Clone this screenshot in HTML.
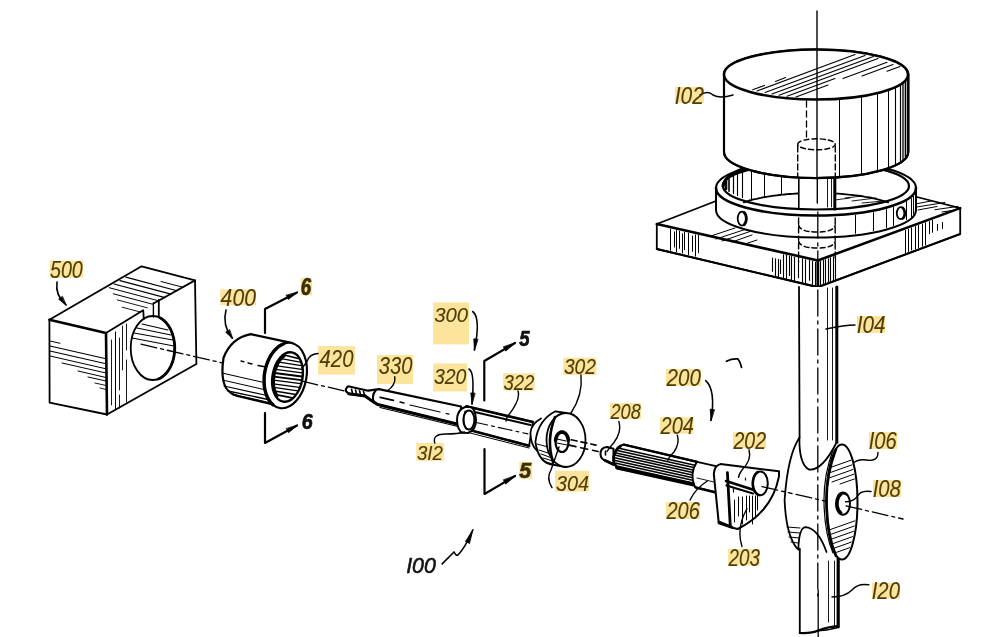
<!DOCTYPE html>
<html><head><meta charset="utf-8">
<style>
html,body{margin:0;padding:0;background:#fff;overflow:hidden;}
svg{display:block;}
.tx{font-family:"Liberation Sans",sans-serif;font-style:italic;fill:#4E3D06;stroke:#4E3D06;stroke-width:0.1;}
.tk{font-family:"Liberation Sans",sans-serif;font-style:italic;fill:#111;stroke:#111;stroke-width:0.6;}
.txb{font-family:"Liberation Sans",sans-serif;font-style:italic;font-weight:bold;fill:#3A2E04;stroke:#3A2E04;stroke-width:0.7;}
.tkb{font-family:"Liberation Sans",sans-serif;font-style:italic;font-weight:bold;fill:#111;stroke:#111;stroke-width:0.7;}
</style></head>
<body>
<svg width="1006" height="637" viewBox="0 0 1006 637">
<g stroke="#000" stroke-linecap="round" stroke-linejoin="round" fill="none">
<path d="M49.4 319.8 L141.6 266.3 L195 280.4 L196.4 364 L107 414.5 L49.6 402.7 Z" fill="#fff" stroke-width="1.8" />
<path d="M49.4 319.8 L106 333 L107 414.5" fill="none" stroke-width="2.6" />
<ellipse cx="152.7" cy="348" rx="22" ry="32" fill="#fff" stroke-width="1.8" />
<path d="M160.2 317.9 L162.4 319.2 L164.4 320.9 L166.3 322.8 L168.0 325.0 L169.6 327.5 L171.0 330.2 L172.2 333.1 L173.1 336.2 L173.9 339.4 L174.4 342.7 L174.7 346.0 L174.7 349.4 L174.5 352.8 L174.0 356.1 L173.3 359.3 L172.4 362.4 L171.2 365.3 L169.9 368.0 L168.3 370.5 L166.6 372.8 L164.7 374.8 L162.7 376.5 L160.6 377.9 L158.4 378.9" fill="none" stroke-width="2.8" />
<path d="M106 333 L143.2 310.2 L143.8 319" fill="none" stroke-width="1.8" />
<path d="M153.5 303.5 L195 280.4" fill="none" stroke-width="1.8" />
<line x1="153.4" y1="303.0" x2="153.4" y2="317.0" stroke-width="1.4" />
<line x1="158.8" y1="300.0" x2="158.8" y2="317.0" stroke-width="1.8" />
<line x1="142.0" y1="324.0" x2="168.0" y2="330.0" stroke-width="1.1" />
<line x1="137.0" y1="328.0" x2="171.0" y2="335.0" stroke-width="1.1" />
<line x1="134.0" y1="333.0" x2="173.0" y2="340.0" stroke-width="1.1" />
<line x1="132.0" y1="338.0" x2="174.0" y2="346.0" stroke-width="1.1" />
<line x1="161.0" y1="281.5" x2="183.0" y2="287.3" stroke-width="1.0" />
<line x1="125.8" y1="277.1" x2="177.0" y2="290.7" stroke-width="1.1" />
<line x1="119.9" y1="280.6" x2="171.1" y2="294.1" stroke-width="1.1" />
<line x1="114.0" y1="284.0" x2="165.1" y2="297.6" stroke-width="1.1" />
<line x1="109.2" y1="287.7" x2="159.2" y2="301.0" stroke-width="1.0" />
<line x1="113.3" y1="293.8" x2="153.3" y2="304.4" stroke-width="1.0" />
<line x1="117.3" y1="299.9" x2="147.3" y2="307.8" stroke-width="0.9" />
<line x1="122.2" y1="307.2" x2="140.2" y2="312.0" stroke-width="0.9" />
<line x1="50.0" y1="341.0" x2="60.0" y2="343.3" stroke-width="1.0" />
<line x1="50.0" y1="346.0" x2="106.0" y2="358.8" stroke-width="1.1" />
<line x1="50.0" y1="351.0" x2="106.0" y2="363.8" stroke-width="1.1" />
<line x1="50.0" y1="356.0" x2="106.0" y2="368.8" stroke-width="1.0" />
<line x1="62.0" y1="363.0" x2="106.0" y2="373.0" stroke-width="1.0" />
<line x1="78.0" y1="371.0" x2="106.0" y2="377.5" stroke-width="1.0" />
<line x1="88.0" y1="377.0" x2="106.0" y2="381.0" stroke-width="1.0" />
<line x1="95.0" y1="383.0" x2="106.0" y2="385.5" stroke-width="0.9" />
<line x1="100.0" y1="388.0" x2="106.0" y2="389.5" stroke-width="0.9" />
<line x1="111.5" y1="340.0" x2="111.5" y2="405.0" stroke-width="0.9" />
<line x1="115.5" y1="332.0" x2="115.5" y2="410.0" stroke-width="1.0" />
<line x1="119.5" y1="338.0" x2="119.5" y2="390.0" stroke-width="0.9" />
<line x1="119.5" y1="395.0" x2="119.5" y2="408.0" stroke-width="0.9" />
<line x1="122.5" y1="326.0" x2="122.5" y2="370.0" stroke-width="0.9" />
<line x1="126.5" y1="324.0" x2="126.5" y2="350.0" stroke-width="0.9" />
<line x1="126.5" y1="360.0" x2="126.5" y2="402.0" stroke-width="0.9" />
<path d="M57 282 Q55 295 66 305" fill="none" stroke-width="1.6" />
<path d="M66.0 305.0 L58.7 299.2 L62.2 296.5 Z" fill="#000" stroke-width="0.8"/>
<path d="M250.8 334.2 Q229.9 340 223 360 Q221 380 226 388 Q230 394 237.4 396 L271.7 404.3 L300 350 L292.6 343.1 Z" fill="#fff" stroke-width="0" />
<path d="M292.6 343.1 L250.8 334.2 Q231 338 223.5 358 Q220.5 378 226 388 Q230 394 237.4 396 L275 405" fill="none" stroke-width="2.2" />
<line x1="222.0" y1="373.0" x2="266.0" y2="383.0" stroke-width="1.1" />
<line x1="222.5" y1="380.0" x2="266.0" y2="390.0" stroke-width="1.0" />
<line x1="224.0" y1="386.0" x2="267.0" y2="395.5" stroke-width="1.1" />
<line x1="228.0" y1="391.0" x2="268.0" y2="399.5" stroke-width="1.3" />
<line x1="233.0" y1="394.5" x2="270.0" y2="403.0" stroke-width="1.6" />
<line x1="241.0" y1="361.0" x2="244.0" y2="361.8" stroke-width="1.3" />
<line x1="248.0" y1="363.0" x2="252.0" y2="364.0" stroke-width="1.3" />
<line x1="258.0" y1="365.5" x2="266.0" y2="367.0" stroke-width="1.3" />
<ellipse cx="285.5" cy="375.5" rx="21" ry="33" transform="rotate(10 285.5 375.5)" fill="#fff" stroke-width="2.2"/>
<path d="M273.0 404.8 L271.3 403.2 L269.8 401.2 L268.4 399.1 L267.1 396.6 L266.1 394.0 L265.3 391.2 L264.6 388.2 L264.2 385.0 L264.1 381.8 L264.1 378.5 L264.3 375.2 L264.8 371.9 L265.5 368.6 L266.4 365.4 L267.5 362.2 L268.8 359.3 L270.2 356.5 L271.8 353.9 L273.6 351.5 L275.5 349.4 L277.5 347.5 L279.5 345.9 L281.6 344.7 L283.8 343.7" fill="none" stroke-width="3.4" />
<ellipse cx="287.5" cy="377" rx="15" ry="25" transform="rotate(10 287.5 377)" fill="#fff" stroke-width="2.4"/>
<line x1="284.4" y1="355.0" x2="298.2" y2="358.5" stroke-width="1.8" />
<line x1="281.2" y1="358.6" x2="300.2" y2="362.1" stroke-width="1.3" />
<line x1="278.8" y1="362.2" x2="301.4" y2="365.7" stroke-width="1.3" />
<line x1="277.0" y1="365.8" x2="301.9" y2="369.3" stroke-width="1.3" />
<line x1="275.7" y1="369.4" x2="302.1" y2="372.9" stroke-width="1.3" />
<line x1="274.6" y1="373.0" x2="301.9" y2="376.5" stroke-width="1.8" />
<line x1="273.9" y1="376.6" x2="301.4" y2="380.1" stroke-width="1.8" />
<line x1="273.5" y1="380.2" x2="300.6" y2="383.7" stroke-width="1.3" />
<line x1="273.4" y1="383.8" x2="299.4" y2="387.3" stroke-width="1.3" />
<line x1="273.7" y1="387.4" x2="297.9" y2="390.9" stroke-width="1.3" />
<line x1="274.4" y1="391.0" x2="295.9" y2="394.5" stroke-width="1.3" />
<line x1="275.8" y1="394.6" x2="293.4" y2="398.1" stroke-width="1.8" />
<path d="M277.3 395.9 L276.5 394.6 L275.8 393.2 L275.2 391.7 L274.7 390.1 L274.3 388.4 L273.9 386.5 L273.7 384.7 L273.6 382.7 L273.6 380.7 L273.7 378.7 L273.9 376.7 L274.2 374.7 L274.6 372.6 L275.1 370.7 L275.7 368.7 L276.4 366.9 L277.2 365.1 L278.0 363.4 L279.0 361.8 L279.9 360.3 L281.0 359.0 L282.1 357.8 L283.2 356.7 L284.4 355.8" fill="none" stroke-width="2.8" />
<path d="M265 333 L265 309 L297 292.5" fill="none" stroke-width="2.2" />
<path d="M297.1 292.5 L288.3 299.5 L286.3 295.5 Z" fill="#000" stroke-width="0.8"/>
<path d="M265 413 L265 443 L297 425.5" fill="none" stroke-width="2.2" />
<path d="M297.1 425.5 L288.5 432.7 L286.4 428.8 Z" fill="#000" stroke-width="0.8"/>
<path d="M226 310 Q222 325 232 338" fill="none" stroke-width="1.6" />
<path d="M232.5 338.5 L225.7 332.2 L229.4 329.8 Z" fill="#000" stroke-width="0.8"/>
<path d="M318 353.5 Q309 354 306.6 362.4 L302 368" fill="none" stroke-width="1.5" />
<path d="M348.2 386.3 L368.2 390.7 L378.9 389.1 L461 406.5 L461 425 L377.7 404.5 L372.6 401.4 L365.1 396 L348.8 393.8 Q344.5 391 346.3 388.5 Q347 386.5 348.2 386.3 Z" fill="#fff" stroke-width="2.2" />
<path d="M348.8 393.8 L365.1 396 L372.6 401.4 L377.7 404.5 L461 425" fill="none" stroke-width="3.0" />
<line x1="351.5" y1="389.2" x2="352.5" y2="393.0" stroke-width="1.6" stroke="#000"/>
<line x1="355.5" y1="390.0" x2="356.5" y2="393.6" stroke-width="1.6" stroke="#000"/>
<line x1="359.5" y1="390.8" x2="360.5" y2="394.2" stroke-width="1.6" stroke="#000"/>
<line x1="363.5" y1="391.6" x2="364.5" y2="394.8" stroke-width="1.6" stroke="#000"/>
<path d="M376 390 Q371 396 374 402" fill="none" stroke-width="2.0" />
<line x1="380.2" y1="397.3" x2="393.4" y2="400.4" stroke-width="1.8" />
<line x1="400.0" y1="402.0" x2="404.0" y2="403.0" stroke-width="1.4" />
<line x1="410.0" y1="405.0" x2="440.0" y2="412.0" stroke-width="1.2" />
<line x1="446.0" y1="413.5" x2="449.0" y2="414.2" stroke-width="1.2" />
<path d="M380 407.5 L460 427" fill="none" stroke-width="1.2" />
<path d="M466.4 406.3 L532.9 422 L529.1 445.8 L467.6 429.5 Z" fill="#fff" stroke-width="1.8" />
<path d="M466.4 406.3 L532.9 422" fill="none" stroke-width="2.6" />
<path d="M471.4 411.3 L530.4 425" fill="none" stroke-width="2.0" />
<path d="M473.9 422 L527.9 433.9" fill="none" stroke-width="1.1" stroke-dasharray="14 4 3 4"/>
<path d="M467.6 429.5 L529.1 445.8" fill="none" stroke-width="2.6" />
<path d="M470 433 L529 448" fill="none" stroke-width="1.0" />
<path d="M465 407 Q457 410 457 420 Q457.5 431 462.6 432.7 L468 433 Q476 430 476 420 Q475.5 408 470 407 Z" fill="#fff" stroke-width="2.0" />
<ellipse cx="468.9" cy="420" rx="5.5" ry="9.5" fill="#fff" stroke-width="2.0" />
<path d="M465 411 Q462 420 466 429" fill="none" stroke-width="1.0" />
<path d="M541 418.5 Q531 424 530.4 433 Q531 446 537 450.5 L548 452 L548 418 Z" fill="#fff" stroke-width="0" />
<path d="M541 418.5 Q531 424 530.4 433 Q531 446 537 450.5" fill="none" stroke-width="1.8" />
<path d="M555.5 411.3 Q538 420 535.4 442 Q538 460 549.2 464 L566 467 L566 413 Z" fill="#fff" stroke-width="1.8" />
<line x1="539.0" y1="450.0" x2="551.0" y2="454.0" stroke-width="1.0" />
<line x1="541.0" y1="454.0" x2="552.0" y2="458.0" stroke-width="1.0" />
<line x1="543.0" y1="458.0" x2="553.0" y2="461.0" stroke-width="1.0" />
<line x1="546.0" y1="462.0" x2="553.0" y2="464.0" stroke-width="1.0" />
<line x1="537.0" y1="444.0" x2="548.0" y2="447.0" stroke-width="1.0" />
<ellipse cx="566" cy="440" rx="19.5" ry="27" fill="#fff" stroke-width="1.8" />
<path d="M555 417 Q546 440 553 462" fill="none" stroke-width="2.6" />
<ellipse cx="562" cy="442" rx="6.5" ry="10" fill="#fff" stroke-width="2.2" />
<path d="M555.6 440.3 L555.8 439.1 L556.0 438.0 L556.4 437.0 L556.8 436.0 L557.3 435.1 L557.8 434.3 L558.4 433.6 L559.1 433.1 L559.8 432.6 L560.5 432.3 L561.2 432.1 L562.0 432.0 L562.8 432.1 L563.5 432.3 L564.2 432.6 L564.9 433.1 L565.6 433.6 L566.2 434.3 L566.7 435.1 L567.2 436.0 L567.6 437.0 L568.0 438.0 L568.2 439.1 L568.4 440.3" fill="none" stroke-width="3.6" />
<line x1="557.0" y1="439.0" x2="566.0" y2="441.0" stroke-width="1.2" />
<line x1="557.0" y1="443.0" x2="567.0" y2="445.0" stroke-width="1.0" />
<path d="M484.3 400.5 L484.3 361 L515 343" fill="none" stroke-width="2.2" />
<path d="M515.0 343.0 L505.8 351.1 L503.5 347.1 Z" fill="#000" stroke-width="0.8"/>
<path d="M484.5 449 L484.5 494 L515 476" fill="none" stroke-width="2.2" />
<path d="M515.0 476.0 L505.8 484.1 L503.5 480.1 Z" fill="#000" stroke-width="0.8"/>
<path d="M472.7 311.5 Q481 318 474.4 350" fill="none" stroke-width="1.6" />
<path d="M474.4 350.0 L473.8 338.8 L477.7 339.3 Z" fill="#000" stroke-width="0.8"/>
<path d="M469 369 Q475 372 472 404" fill="none" stroke-width="1.6" />
<path d="M472.0 404.0 L470.8 392.9 L474.8 393.2 Z" fill="#000" stroke-width="0.8"/>
<path d="M394.8 376.8 Q396 385 387 391" fill="none" stroke-width="1.4" />
<path d="M518 391 Q521 400 507 417 L506 421" fill="none" stroke-width="1.4" />
<path d="M581 375 Q583 395 571 413" fill="none" stroke-width="1.4" />
<path d="M434.8 443 Q432 434 446 434 Q458 434 464.6 432" fill="none" stroke-width="1.4" />
<path d="M559 447 L551 470 Q546 478 552 487.7" fill="none" stroke-width="1.4" />
<path d="M607 447 L613.5 448.8 L613.5 464.5 L607 461 Q600.5 460 600.5 454 Q600.5 447.5 607 447 Z" fill="#fff" stroke-width="2.0" />
<path d="M605 460.5 L613.5 464.5" fill="none" stroke-width="2.6" />
<line x1="605.5" y1="451.0" x2="605.5" y2="455.0" stroke-width="1.6" />
<path d="M623.9 444.6 L697 461.8 Q691 473 695 485 L617 467.9 Q612 462 613.8 455.3 Q616 446 623.9 444.6 Z" fill="#fff" stroke-width="2.0" />
<line x1="617.8" y1="448.1" x2="696.0" y2="465.6" stroke-width="1.5" />
<line x1="616.2" y1="450.3" x2="696.0" y2="468.1" stroke-width="1.5" />
<line x1="615.1" y1="452.7" x2="696.0" y2="470.7" stroke-width="1.5" />
<line x1="614.6" y1="455.1" x2="696.0" y2="473.3" stroke-width="1.5" />
<line x1="614.6" y1="457.7" x2="694.3" y2="475.5" stroke-width="1.5" />
<line x1="615.1" y1="460.4" x2="694.0" y2="478.1" stroke-width="1.5" />
<line x1="616.2" y1="463.3" x2="693.7" y2="480.6" stroke-width="1.5" />
<line x1="617.8" y1="466.2" x2="693.3" y2="483.1" stroke-width="1.5" />
<path d="M617 467.9 L695 485" fill="none" stroke-width="3.4" />
<path d="M623.9 444.6 L697 461.8" fill="none" stroke-width="2.4" />
<path d="M621 446 Q612 452 614 462 Q616 468 621 469" fill="none" stroke-width="2.4" />
<path d="M697 461.8 L716 466.2 L716 492.4 L695 487 Q689 474 697 461.8 Z" fill="#fff" stroke-width="1.8" />
<path d="M695.6 487.4 L716 492.4" fill="none" stroke-width="2.6" />
<path d="M697 478 L714 482" fill="none" stroke-width="0.9" />
<path d="M720.4 464.1 L779 471.3 L779 476.4 Q772 512 737.7 529 L731.4 527.5 L718.8 523.4 L713.8 473.8 Q714.5 465.5 720.4 464.1 Z" fill="#fff" stroke-width="2.0" />
<path d="M727.4 472.6 L730.3 526.3" fill="none" stroke-width="2.8" />
<path d="M719 522 L732 527.2" fill="none" stroke-width="2.8" />
<path d="M726 481 L754 490" fill="none" stroke-width="2.6" />
<path d="M726.5 485.5 L753 493.5" fill="none" stroke-width="2.2" />
<ellipse cx="760.3" cy="483.3" rx="7.5" ry="11.9" fill="#fff" stroke-width="2.0" />
<path d="M759.0 495.0 L758.2 494.7 L757.4 494.3 L756.7 493.7 L756.0 493.0 L755.4 492.2 L754.8 491.3 L754.3 490.3 L753.8 489.2 L753.4 488.1 L753.1 486.9 L752.9 485.6 L752.8 484.3 L752.8 483.0 L752.9 481.7 L753.0 480.5 L753.3 479.2 L753.6 478.0 L754.0 476.9 L754.5 475.9 L755.0 474.9 L755.6 474.0 L756.3 473.3 L757.0 472.6 L757.7 472.1" fill="none" stroke-width="2.6" />
<line x1="734.5" y1="500.0" x2="734.5" y2="522.0" stroke-width="1.0" />
<line x1="738.5" y1="497.0" x2="738.5" y2="516.0" stroke-width="1.0" />
<line x1="742.5" y1="497.0" x2="742.5" y2="524.0" stroke-width="1.0" />
<line x1="746.5" y1="496.0" x2="746.5" y2="520.0" stroke-width="1.0" />
<line x1="749.5" y1="496.0" x2="749.5" y2="512.0" stroke-width="1.0" />
<line x1="752.5" y1="496.0" x2="752.5" y2="524.0" stroke-width="1.0" />
<line x1="755.5" y1="496.0" x2="755.5" y2="518.0" stroke-width="1.0" />
<line x1="757.5" y1="496.0" x2="757.5" y2="510.0" stroke-width="1.0" />
<line x1="733.5" y1="489.0" x2="733.5" y2="492.0" stroke-width="1.2" />
<line x1="745.5" y1="478.0" x2="745.5" y2="480.0" stroke-width="1.2" />
<path d="M618.9 421.4 Q622 432 613.8 442.7 Q609 448 607 451.5" fill="none" stroke-width="1.4" />
<path d="M677.3 435.2 Q680 443 674 452 Q669 457 667.9 460.3" fill="none" stroke-width="1.4" />
<path d="M749 449.8 Q752 460 742 470 Q739 474 738.5 477.4" fill="none" stroke-width="1.4" />
<path d="M690 500 Q696 488 707.4 481" fill="none" stroke-width="1.4" />
<path d="M742 546.5 Q736 528 747 508.5" fill="none" stroke-width="1.4" />
<path d="M705.7 380.7 Q716 390 711 420.4" fill="none" stroke-width="1.6" />
<path d="M711.0 420.4 L710.2 409.2 L714.2 409.7 Z" fill="#000" stroke-width="0.8"/>
<path d="M656.8 224 L716 201 L917 197 L960.2 208.1 L960.2 234 L817.8 287 L656.8 249 Z" fill="#fff" stroke-width="1.8" />
<path d="M656.8 224 L817.8 260.5 L960.2 208.1" fill="none" stroke-width="2.6" />
<line x1="817.8" y1="260.5" x2="817.8" y2="287.0" stroke-width="2.8" />
<path d="M656.8 249 L817.8 287.2 L960.2 234" fill="none" stroke-width="2.0" />
<line x1="670.5" y1="229.1" x2="670.5" y2="250.3" stroke-width="1.0" />
<line x1="674.5" y1="231.9" x2="674.5" y2="247.1" stroke-width="1.0" />
<line x1="676.5" y1="230.5" x2="676.5" y2="251.7" stroke-width="1.0" />
<line x1="679.5" y1="231.1" x2="679.5" y2="248.4" stroke-width="1.0" />
<line x1="682.5" y1="233.8" x2="682.5" y2="253.0" stroke-width="1.0" />
<line x1="684.5" y1="232.4" x2="684.5" y2="249.7" stroke-width="1.0" />
<line x1="688.5" y1="233.2" x2="688.5" y2="254.5" stroke-width="1.0" />
<line x1="692.5" y1="236.0" x2="692.5" y2="251.4" stroke-width="1.0" />
<line x1="695.5" y1="234.8" x2="695.5" y2="256.2" stroke-width="1.0" />
<line x1="698.5" y1="235.4" x2="698.5" y2="252.8" stroke-width="1.0" />
<line x1="772.5" y1="258.1" x2="772.5" y2="271.3" stroke-width="1.1" />
<line x1="775.5" y1="258.8" x2="775.5" y2="276.1" stroke-width="1.1" />
<line x1="778.5" y1="259.5" x2="778.5" y2="276.8" stroke-width="1.1" />
<line x1="780.5" y1="260.1" x2="780.5" y2="273.4" stroke-width="1.1" />
<line x1="783.5" y1="254.7" x2="783.5" y2="278.0" stroke-width="1.1" />
<line x1="786.5" y1="255.3" x2="786.5" y2="278.7" stroke-width="1.1" />
<line x1="789.5" y1="256.0" x2="789.5" y2="275.4" stroke-width="1.1" />
<line x1="791.5" y1="256.5" x2="791.5" y2="279.9" stroke-width="1.1" />
<line x1="794.5" y1="257.3" x2="794.5" y2="280.8" stroke-width="1.1" />
<line x1="798.5" y1="258.1" x2="798.5" y2="277.6" stroke-width="1.1" />
<line x1="802.5" y1="258.9" x2="802.5" y2="282.5" stroke-width="1.1" />
<line x1="805.5" y1="259.8" x2="805.5" y2="283.3" stroke-width="1.1" />
<line x1="809.5" y1="260.6" x2="809.5" y2="280.2" stroke-width="1.1" />
<line x1="812.5" y1="261.4" x2="812.5" y2="285.0" stroke-width="1.1" />
<line x1="815.5" y1="262.0" x2="815.5" y2="285.7" stroke-width="1.1" />
<line x1="820.5" y1="261.5" x2="820.5" y2="285.2" stroke-width="1.1" />
<line x1="823.5" y1="260.6" x2="823.5" y2="284.3" stroke-width="1.1" />
<line x1="825.5" y1="259.7" x2="825.5" y2="283.3" stroke-width="1.1" />
<line x1="828.5" y1="258.7" x2="828.5" y2="282.4" stroke-width="1.1" />
<line x1="830.5" y1="257.8" x2="830.5" y2="281.5" stroke-width="1.1" />
<line x1="833.5" y1="256.9" x2="833.5" y2="280.5" stroke-width="1.1" />
<line x1="835.5" y1="256.0" x2="835.5" y2="279.6" stroke-width="1.1" />
<line x1="905.5" y1="230.4" x2="905.5" y2="252.6" stroke-width="1.0" />
<line x1="908.5" y1="229.2" x2="908.5" y2="251.4" stroke-width="1.0" />
<line x1="911.5" y1="227.9" x2="911.5" y2="250.1" stroke-width="1.0" />
<line x1="915.5" y1="226.6" x2="915.5" y2="248.8" stroke-width="1.0" />
<line x1="918.5" y1="225.4" x2="918.5" y2="247.5" stroke-width="1.0" />
<line x1="922.5" y1="224.1" x2="922.5" y2="246.2" stroke-width="1.0" />
<line x1="925.5" y1="222.8" x2="925.5" y2="244.9" stroke-width="1.0" />
<line x1="929.5" y1="221.6" x2="929.5" y2="233.7" stroke-width="1.0" />
<line x1="932.5" y1="220.3" x2="932.5" y2="232.3" stroke-width="1.0" />
<line x1="937.5" y1="224.4" x2="937.5" y2="230.4" stroke-width="1.0" />
<line x1="942.5" y1="222.5" x2="942.5" y2="228.5" stroke-width="1.0" />
<line x1="711.0" y1="236.0" x2="735.0" y2="228.0" stroke-width="1.0" />
<line x1="716.0" y1="239.0" x2="745.0" y2="229.5" stroke-width="1.0" />
<line x1="722.0" y1="241.0" x2="750.0" y2="231.5" stroke-width="1.0" />
<line x1="732.0" y1="242.0" x2="752.0" y2="235.0" stroke-width="1.0" />
<line x1="745.0" y1="244.0" x2="757.0" y2="240.0" stroke-width="1.0" />
<line x1="917.4" y1="203.6" x2="931.6" y2="200.9" stroke-width="1.0" />
<line x1="917.4" y1="206.9" x2="944.8" y2="202.5" stroke-width="1.0" />
<line x1="918.0" y1="210.0" x2="937.0" y2="206.5" stroke-width="1.0" />
<line x1="935.0" y1="209.7" x2="958.0" y2="206.4" stroke-width="1.0" />
<line x1="942.0" y1="212.0" x2="952.0" y2="210.5" stroke-width="1.0" />
<path d="M799 287 L837 287 L837 440 L799 440 Z" fill="#fff" stroke-width="0" />
<line x1="799.0" y1="287.0" x2="799.6" y2="440.0" stroke-width="1.8" />
<line x1="836.8" y1="287.0" x2="836.8" y2="445.0" stroke-width="3.0" />
<line x1="827.5" y1="288.0" x2="827.5" y2="440.0" stroke-width="0.9" />
<line x1="832.5" y1="288.0" x2="832.5" y2="440.0" stroke-width="0.9" />
<path d="M716 188 A100 27.5 0 0 1 916 188 L916 210 A100 27.5 0 0 1 716 210 Z" fill="#fff" stroke-width="2.0" />
<path d="M716 188 A100 27.5 0 0 0 916 188" fill="none" stroke-width="2.6" />
<ellipse cx="816" cy="186" rx="93" ry="23.5" fill="#fff" stroke-width="2.2" />
<path d="M743.9 202.4 L745.5 201.8 L747.2 201.3 L749.0 200.7 L750.8 200.2 L752.7 199.7 L754.6 199.2 L756.6 198.8 L758.7 198.3 L760.8 197.9 L762.9 197.4 L765.2 197.0 L767.4 196.7 L769.7 196.3 L772.1 195.9 L774.5 195.6 L777.0 195.3 L779.4 195.0 L782.0 194.7 L784.5 194.5 L787.1 194.2 L789.7 194.0 L792.4 193.8 L795.0 193.6 L797.7 193.5" fill="none" stroke-width="1.8" />
<path d="M835.8 193.6 L838.4 193.7 L841.0 193.9 L843.6 194.1 L846.1 194.3 L848.6 194.6 L851.1 194.8 L853.5 195.1 L856.0 195.4 L858.3 195.7 L860.7 196.0 L863.0 196.4 L865.2 196.8 L867.4 197.1 L869.6 197.5 L871.7 198.0 L873.7 198.4 L875.7 198.8 L877.7 199.3 L879.6 199.8 L881.4 200.3 L883.2 200.8 L884.9 201.3 L886.5 201.8 L888.1 202.4" fill="none" stroke-width="1.8" />
<line x1="726.0" y1="181.1" x2="726.0" y2="188.9" stroke-width="2.6" />
<line x1="729.0" y1="178.7" x2="729.0" y2="191.3" stroke-width="1.6" />
<line x1="733.5" y1="176.4" x2="733.5" y2="193.6" stroke-width="1.2" />
<line x1="737.5" y1="174.6" x2="737.5" y2="195.4" stroke-width="1.1" />
<line x1="742.5" y1="172.6" x2="742.5" y2="197.4" stroke-width="1.1" />
<line x1="751.5" y1="170.0" x2="751.5" y2="200.0" stroke-width="1.0" />
<line x1="764.5" y1="170.0" x2="764.5" y2="197.2" stroke-width="1.0" />
<line x1="781.5" y1="170.0" x2="781.5" y2="194.8" stroke-width="1.0" />
<path d="M723 186 Q724 176 745 168" fill="none" stroke-width="3.0" />
<line x1="845.0" y1="198.0" x2="862.0" y2="196.0" stroke-width="0.9" />
<line x1="852.0" y1="201.0" x2="876.0" y2="198.0" stroke-width="0.9" />
<line x1="862.0" y1="203.0" x2="884.0" y2="201.0" stroke-width="0.9" />
<line x1="835.0" y1="200.0" x2="850.0" y2="198.0" stroke-width="0.9" />
<line x1="798.8" y1="176.0" x2="798.8" y2="209.0" stroke-width="1.6" />
<line x1="834.8" y1="176.0" x2="834.8" y2="209.0" stroke-width="3.0" />
<line x1="817.3" y1="176.0" x2="817.3" y2="203.0" stroke-width="1.4" />
<line x1="827.5" y1="178.0" x2="827.5" y2="207.0" stroke-width="0.9" />
<line x1="831.5" y1="178.0" x2="831.5" y2="207.0" stroke-width="0.9" />
<line x1="855.5" y1="215.3" x2="855.5" y2="233.3" stroke-width="1.0" />
<line x1="873.5" y1="212.6" x2="873.5" y2="230.6" stroke-width="1.0" />
<line x1="886.5" y1="209.5" x2="886.5" y2="227.5" stroke-width="1.0" />
<line x1="893.5" y1="207.5" x2="893.5" y2="225.5" stroke-width="1.0" />
<line x1="906.5" y1="201.6" x2="906.5" y2="219.6" stroke-width="1.0" />
<line x1="911.5" y1="198.6" x2="911.5" y2="216.6" stroke-width="1.0" />
<line x1="913.5" y1="196.2" x2="913.5" y2="214.2" stroke-width="1.0" />
<line x1="798.6" y1="218.0" x2="798.6" y2="240.0" stroke-width="1.4" stroke-dasharray="6 3"/>
<line x1="798.6" y1="243.0" x2="798.6" y2="262.0" stroke-width="1.4" stroke-dasharray="6 3"/>
<line x1="835.2" y1="218.0" x2="835.2" y2="240.0" stroke-width="1.4" stroke-dasharray="6 3"/>
<line x1="835.2" y1="243.0" x2="835.2" y2="259.0" stroke-width="1.4" stroke-dasharray="6 3"/>
<path d="M798.6 225 Q800 232 817 232 Q834 232 835.2 225" fill="none" stroke-width="1.4" stroke-dasharray="5 3"/>
<path d="M798.6 241 Q800 248 817 248 Q834 248 835.2 241" fill="none" stroke-width="1.4" stroke-dasharray="5 3"/>
<path d="M724 74.5 A92 25 0 0 1 908.3 74.5 L908.3 152 A92 26 0 0 1 724 152 Z" fill="#fff" stroke-width="2.0" />
<path d="M724 74.5 L724 152 A92 26 0 0 0 908.3 152 L908.3 74.5" fill="none" stroke-width="2.2" />
<ellipse cx="816" cy="74.5" rx="92" ry="25" fill="#fff" stroke-width="2.6" />
<line x1="757.0" y1="90.9" x2="855.0" y2="54.6" stroke-width="1.1" />
<line x1="765.0" y1="92.4" x2="865.0" y2="55.4" stroke-width="1.1" />
<line x1="772.0" y1="94.1" x2="873.5" y2="56.5" stroke-width="1.1" />
<line x1="779.0" y1="95.3" x2="878.0" y2="58.6" stroke-width="1.1" />
<line x1="787.0" y1="96.3" x2="835.0" y2="78.6" stroke-width="1.1" />
<line x1="796.0" y1="97.0" x2="828.0" y2="85.1" stroke-width="1.1" />
<line x1="843.0" y1="78.6" x2="887.0" y2="62.3" stroke-width="1.1" />
<line x1="862.0" y1="76.1" x2="893.0" y2="64.6" stroke-width="1.1" />
<line x1="887.0" y1="71.3" x2="900.0" y2="66.5" stroke-width="1.1" />
<line x1="752.7" y1="89.8" x2="764.5" y2="85.4" stroke-width="1.1" />
<line x1="775.5" y1="81.4" x2="785.6" y2="77.6" stroke-width="1.1" />
<line x1="839.5" y1="99.7" x2="839.5" y2="176.1" stroke-width="1.0" />
<line x1="861.5" y1="97.3" x2="861.5" y2="173.7" stroke-width="1.0" />
<line x1="877.5" y1="94.2" x2="877.5" y2="170.5" stroke-width="1.0" />
<line x1="888.5" y1="90.9" x2="888.5" y2="167.0" stroke-width="1.0" />
<line x1="895.5" y1="87.9" x2="895.5" y2="163.9" stroke-width="1.1" />
<line x1="900.5" y1="85.7" x2="900.5" y2="161.6" stroke-width="1.2" />
<line x1="903.0" y1="83.6" x2="903.0" y2="159.5" stroke-width="1.3" />
<line x1="905.5" y1="81.3" x2="905.5" y2="157.0" stroke-width="1.6" />
<path d="M797.7 144.3 A18.8 5.5 0 0 1 835.3 144.3 A18.8 5.5 0 0 1 797.7 144.3" fill="none" stroke-width="1.4" stroke-dasharray="5 3"/>
<line x1="797.7" y1="146.0" x2="797.7" y2="177.0" stroke-width="1.4" stroke-dasharray="6 3"/>
<line x1="835.3" y1="146.0" x2="835.3" y2="177.0" stroke-width="1.4" stroke-dasharray="6 3"/>
<line x1="806.5" y1="101.0" x2="806.5" y2="137.0" stroke-width="1.3" stroke-dasharray="6 4"/>
<line x1="817.0" y1="11.0" x2="817.0" y2="178.0" stroke-width="1.4" />
<ellipse cx="742" cy="218.6" rx="4.3" ry="7" fill="none" stroke-width="1.8" />
<path d="M744.1 212.5 L744.5 212.9 L744.8 213.2 L745.0 213.7 L745.3 214.1 L745.5 214.6 L745.7 215.1 L745.9 215.6 L746.0 216.2 L746.2 216.8 L746.2 217.4 L746.3 218.0 L746.3 218.6 L746.3 219.2 L746.2 219.8 L746.2 220.4 L746.0 221.0 L745.9 221.6 L745.7 222.1 L745.5 222.6 L745.3 223.1 L745.0 223.5 L744.8 224.0 L744.5 224.3 L744.1 224.7" fill="none" stroke-width="2.8" />
<ellipse cx="900.8" cy="213.2" rx="4" ry="6" fill="none" stroke-width="1.8" />
<path d="M902.8 208.0 L903.1 208.3 L903.4 208.6 L903.6 209.0 L903.9 209.3 L904.1 209.8 L904.3 210.2 L904.4 210.7 L904.6 211.1 L904.7 211.6 L904.7 212.2 L904.8 212.7 L904.8 213.2 L904.8 213.7 L904.7 214.2 L904.7 214.8 L904.6 215.3 L904.4 215.7 L904.3 216.2 L904.1 216.6 L903.9 217.1 L903.6 217.4 L903.4 217.8 L903.1 218.1 L902.8 218.4" fill="none" stroke-width="2.6" />
<path d="M799.8 545 L838.7 545 L838.7 628 L821 630 L799.8 632 Z" fill="#fff" stroke-width="0" />
<line x1="799.8" y1="549.0" x2="799.8" y2="633.0" stroke-width="1.8" />
<line x1="838.2" y1="558.0" x2="838.2" y2="627.0" stroke-width="3.2" />
<line x1="828.5" y1="561.0" x2="828.5" y2="622.0" stroke-width="0.9" />
<line x1="834.5" y1="561.0" x2="834.5" y2="626.0" stroke-width="0.9" />
<path d="M799.8 633 Q812 633.5 818.2 630.6 Q828 626.5 838 626" fill="none" stroke-width="2.2" />
<path d="M818.2 630.6 Q826 630.5 836 628 Q839 626 838 624" fill="none" stroke-width="1.8" />
<path d="M824.5 629 Q830 626.5 835 627.4" fill="none" stroke-width="1.0" />
<path d="M799.4 437.7 Q787.7 455 784.6 500 Q786 535 797 548.4 L826.5 552 L842 560 L842 444 L836 443.5 Z" fill="#fff" stroke-width="0" />
<path d="M799.4 437.7 Q787.7 455 784.6 500 Q786 535 797 548.4 L799.8 549" fill="none" stroke-width="1.8" />
<path d="M799.4 437.7 Q799 464 808.9 469.5 Q822 471 836 443.5" fill="none" stroke-width="1.8" />
<path d="M798.3 549.6 Q799 528 805.3 527.2 Q818 528 826.5 552" fill="none" stroke-width="1.8" />
<ellipse cx="842" cy="502" rx="15.5" ry="57.5" fill="#fff" stroke-width="2.0" />
<path d="M836 449 Q826 475 826.5 502 Q827 535 836 556" fill="none" stroke-width="2.6" />
<path d="M833 450 Q823.5 476 824 502 Q824.5 533 833 553" fill="none" stroke-width="1.2" />
<clipPath id="discclip"><ellipse cx="842" cy="502" rx="14" ry="56"/></clipPath><g clip-path="url(#discclip)">
<line x1="829.0" y1="468.0" x2="860.0" y2="457.0" stroke-width="1.0" />
<line x1="829.0" y1="473.0" x2="860.0" y2="462.0" stroke-width="1.0" />
<line x1="829.0" y1="478.0" x2="860.0" y2="467.0" stroke-width="1.0" />
<line x1="832.0" y1="482.0" x2="860.0" y2="472.0" stroke-width="1.0" />
<line x1="840.0" y1="484.0" x2="860.0" y2="477.0" stroke-width="1.0" />
<line x1="829.0" y1="530.0" x2="860.0" y2="519.0" stroke-width="1.0" />
<line x1="829.0" y1="535.0" x2="860.0" y2="524.0" stroke-width="1.0" />
<line x1="829.0" y1="540.0" x2="860.0" y2="529.0" stroke-width="1.0" />
<line x1="829.0" y1="545.0" x2="860.0" y2="534.0" stroke-width="1.0" />
<line x1="829.0" y1="550.0" x2="860.0" y2="539.0" stroke-width="1.0" />
<line x1="829.0" y1="555.0" x2="860.0" y2="544.0" stroke-width="1.0" />
</g>
<line x1="787.0" y1="527.0" x2="800.0" y2="528.0" stroke-width="1.0" />
<line x1="788.0" y1="532.0" x2="800.0" y2="533.0" stroke-width="1.0" />
<line x1="789.0" y1="537.0" x2="799.0" y2="538.0" stroke-width="1.0" />
<line x1="791.0" y1="542.0" x2="798.0" y2="543.0" stroke-width="1.0" />
<ellipse cx="843" cy="503.6" rx="7" ry="11.2" fill="#fff" stroke-width="2.0" />
<path d="M841.1 512.5 L840.6 512.2 L840.1 511.7 L839.7 511.1 L839.2 510.5 L838.8 509.8 L838.5 509.0 L838.2 508.2 L837.9 507.4 L837.8 506.5 L837.6 505.5 L837.5 504.6 L837.5 503.6 L837.5 502.6 L837.6 501.7 L837.8 500.7 L837.9 499.8 L838.2 499.0 L838.5 498.2 L838.8 497.4 L839.2 496.7 L839.7 496.1 L840.1 495.5 L840.6 495.0 L841.1 494.7" fill="none" stroke-width="2.6" />
<path d="M838 496 Q841 492 847 495" fill="none" stroke-width="1.4" />
<path d="M700 95 Q708 90 713 95 Q720 99 733 95" fill="none" stroke-width="1.5" />
<path d="M826 329 Q845 325 855 325" fill="none" stroke-width="1.4" />
<line x1="141.0" y1="344.2" x2="222.0" y2="362.8" stroke-width="1.3" stroke-dasharray="16 4 3 4"/>
<line x1="302.0" y1="381.2" x2="346.0" y2="391.3" stroke-width="1.3" stroke-dasharray="16 4 3 4"/>
<line x1="762.0" y1="486.6" x2="792.0" y2="493.5" stroke-width="1.3" stroke-dasharray="16 4 3 4"/>
<line x1="796.0" y1="494.4" x2="826.0" y2="501.3" stroke-width="1.3" stroke-dasharray="16 4 3 4"/>
<line x1="846.0" y1="505.9" x2="903.0" y2="519.0" stroke-width="1.3" stroke-dasharray="16 4 3 4"/>
<line x1="571.2" y1="439.8" x2="596.0" y2="445.1" stroke-width="1.6" stroke-dasharray="6 4"/>
<line x1="569.1" y1="445.1" x2="598.1" y2="451.5" stroke-width="1.6" stroke-dasharray="7 5"/>
<line x1="817.8" y1="212" x2="817.8" y2="596" stroke-width="1.3" stroke-dasharray="26 5 3 5"/>
<line x1="818.2" y1="590.0" x2="818.2" y2="637.0" stroke-width="1.3" />
<path d="M878 452.4 Q878 462 866 460 Q858 459 854 462.6" fill="none" stroke-width="1.4" />
<path d="M871 491.5 Q860 490 857 497 Q852 502 845.6 501.8" fill="none" stroke-width="1.4" />
<path d="M868.8 584.8 Q858 583 852 590 Q845 597 832 597" fill="none" stroke-width="1.4" />
</g>
<rect x="675" y="87" width="29.0" height="16.0" fill="#FCE49C" style="mix-blend-mode:multiply"/>
<text transform="translate(675.5,103.5) scale(0.848,1)" x="-1.0" y="0" font-size="24.8" class="tx">I02</text>
<rect x="857" y="316" width="28.0" height="17.0" fill="#FCE49C" style="mix-blend-mode:multiply"/>
<text transform="translate(857.5,333.0) scale(0.861,1)" x="-1.0" y="0" font-size="24.1" class="tx">I04</text>
<rect x="869" y="432" width="28.0" height="17.0" fill="#FCE49C" style="mix-blend-mode:multiply"/>
<text transform="translate(869.5,449.0) scale(0.836,1)" x="-1.0" y="0" font-size="24.1" class="tx">I06</text>
<rect x="873" y="480" width="28.0" height="17.0" fill="#FCE49C" style="mix-blend-mode:multiply"/>
<text transform="translate(873.5,497.0) scale(0.842,1)" x="-1.0" y="0" font-size="24.1" class="tx">I08</text>
<rect x="872" y="583" width="28.0" height="15.5" fill="#FCE49C" style="mix-blend-mode:multiply"/>
<text transform="translate(872.5,599.0) scale(0.867,1)" x="-0.9" y="0" font-size="23.4" class="tx">I20</text>
<rect x="666" y="369" width="35.0" height="17.0" fill="#FCE49C" style="mix-blend-mode:multiply"/>
<text transform="translate(666.5,386.0) scale(0.855,1)" x="0.0" y="0" font-size="24.1" class="tx">200</text>
<rect x="610" y="403" width="31.0" height="16.0" fill="#FCE49C" style="mix-blend-mode:multiply"/>
<text transform="translate(610.5,419.0) scale(0.801,1)" x="0.0" y="0" font-size="22.7" class="tx">208</text>
<rect x="660" y="417.2" width="33.5" height="16.4" fill="#FCE49C" style="mix-blend-mode:multiply"/>
<text transform="translate(660.5,434.0) scale(0.832,1)" x="0.0" y="0" font-size="24.1" class="tx">204</text>
<rect x="733" y="432.5" width="33.0" height="15.5" fill="#FCE49C" style="mix-blend-mode:multiply"/>
<text transform="translate(733.5,448.5) scale(0.834,1)" x="0.0" y="0" font-size="23.4" class="tx">202</text>
<rect x="666" y="502" width="34.0" height="17.0" fill="#FCE49C" style="mix-blend-mode:multiply"/>
<text transform="translate(666.5,519.0) scale(0.829,1)" x="0.0" y="0" font-size="24.1" class="tx">206</text>
<rect x="728" y="549" width="32.0" height="16.5" fill="#FCE49C" style="mix-blend-mode:multiply"/>
<text transform="translate(728.5,565.5) scale(0.803,1)" x="0.0" y="0" font-size="23.4" class="tx">203</text>
<rect x="433.2" y="302.4" width="35.8" height="42.0" fill="#FCE49C" style="mix-blend-mode:multiply"/>
<text transform="translate(434.8,322.2) scale(0.970,1)" x="-0.6" y="0" font-size="21.0" class="tx">300</text>
<rect x="377" y="355" width="36.0" height="28.9" fill="#FCE49C" style="mix-blend-mode:multiply"/>
<text transform="translate(379.3,374.4) scale(0.852,1)" x="-0.7" y="0" font-size="23.7" class="tx">330</text>
<rect x="433.2" y="363.4" width="33.8" height="28.0" fill="#FCE49C" style="mix-blend-mode:multiply"/>
<text transform="translate(434.5,384.0) scale(0.873,1)" x="-0.7" y="0" font-size="22.3" class="tx">320</text>
<rect x="503.2" y="373.3" width="31.4" height="17.3" fill="#FCE49C" style="mix-blend-mode:multiply"/>
<text transform="translate(504.0,389.8) scale(0.831,1)" x="-0.7" y="0" font-size="22.4" class="tx">322</text>
<rect x="563.4" y="357.6" width="33.0" height="17.4" fill="#FCE49C" style="mix-blend-mode:multiply"/>
<text transform="translate(564.5,374.0) scale(0.876,1)" x="-0.7" y="0" font-size="22.0" class="tx">302</text>
<rect x="416.3" y="442.9" width="27.5" height="17.9" fill="#FCE49C" style="mix-blend-mode:multiply"/>
<text transform="translate(417.5,459.8) scale(0.889,1)" x="-0.6" y="0" font-size="21.0" class="tx">3I2</text>
<rect x="555.1" y="470.8" width="33.8" height="20.8" fill="#FCE49C" style="mix-blend-mode:multiply"/>
<text transform="translate(556.5,490.6) scale(0.878,1)" x="-0.7" y="0" font-size="22.6" class="tx">304</text>
<rect x="318.1" y="346" width="36.8" height="28.6" fill="#FCE49C" style="mix-blend-mode:multiply"/>
<text transform="translate(319.7,367.4) scale(0.847,1)" x="-0.2" y="0" font-size="24.0" class="tx">420</text>
<rect x="220.3" y="289.4" width="35.7" height="15.8" fill="#FCE49C" style="mix-blend-mode:multiply"/>
<text transform="translate(220.8,305.5) scale(0.904,1)" x="-0.2" y="0" font-size="23.4" class="tx">400</text>
<rect x="49.8" y="260.7" width="33.2" height="17.0" fill="#FCE49C" style="mix-blend-mode:multiply"/>
<text transform="translate(50.3,278.0) scale(0.796,1)" x="-0.5" y="0" font-size="24.8" class="tx">500</text>
<rect x="300.7" y="278" width="11.4" height="17.3" fill="#FCE49C" style="mix-blend-mode:multiply"/>
<text transform="translate(301.2,294.8) scale(0.798,1)" x="-0.5" y="0" font-size="23.3" class="txb">6</text>
<text transform="translate(302.0,428.5) scale(0.887,1)" x="-0.4" y="0" font-size="22.1" class="tkb">6</text>
<text transform="translate(519.5,345.5) scale(0.833,1)" x="-0.4" y="0" font-size="22.3" class="tkb">5</text>
<rect x="519.3" y="461.8" width="12.9" height="16.9" fill="#FCE49C" style="mix-blend-mode:multiply"/>
<text transform="translate(519.8,478.2) scale(0.936,1)" x="-0.5" y="0" font-size="22.7" class="txb">5</text>
<path d="M726.4 361.2 Q732 358.5 737.7 358.9 Q740 361 741.5 367.4" fill="none" stroke="#000" stroke-width="1.8" stroke-linecap="round"/>
<text transform="translate(407,573.4) scale(0.938,1)" x="-0.9" y="0" font-size="22.8" class="tk">I00</text>
<path d="M441.7 564.4 Q450 556 454 552 Q456 556 458 555 Q465 548 473 529.5" fill="none" stroke="#000" stroke-width="1.6"/>
<path d="M473 529.5 L465.5 541.5 L469.5 543.5 Z" fill="#000" stroke="#000" stroke-width="0.8"/>
</svg>
</body></html>
